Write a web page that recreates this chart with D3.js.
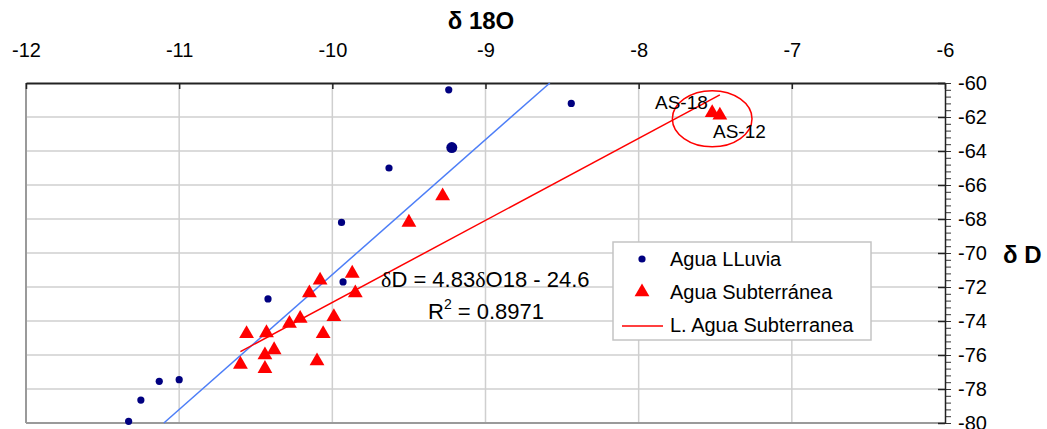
<!DOCTYPE html>
<head>
<meta charset="utf-8">
<script src="https://d3js.org/d3.v7.min.js"></script>
<style>
  body { margin: 0; background: #fff; }
  text { font-family: Arial, "Liberation Sans", sans-serif; fill: #000; }
</style>
</head>
<body>
<svg id="chart" width="1047" height="429"></svg>
<script>
// Agua LLuvia (rain)
const rainX = [-9.24, -8.44, -9.63, -9.94, -9.93, -10.42, -11.0, -11.13, -11.25, -11.33];
const rainY = [-60.4, -61.2, -65.0, -68.2, -71.7, -72.7, -77.45, -77.55, -78.65, -79.9];
const rainBig = [-9.22, -63.8];
// Agua Subterranea (groundwater)
const subX = [-10.08, -9.87, -10.15, -9.85, -9.99, -10.21, -10.28, -10.56, -10.43, -10.06,
              -10.38, -10.44, -10.60, -10.44, -10.10, -9.28, -9.50, -7.52, -7.47];
const subY = [-71.6, -71.2, -72.35, -72.35, -73.75, -73.85, -74.15, -74.75, -74.7, -74.75,
              -75.7, -76.0, -76.55, -76.8, -76.35, -66.65, -68.2, -61.75, -61.9];
// lines (end points)
const rainLineX = [-11.10, -8.58];
const rainLineY = [-80, -60];
const subLineX = [-10.60, -7.47];
const subLineY = [-75.8, -60.7];
const xTicks = [-12, -11, -10, -9, -8, -7, -6];
const yTicks = [-60, -62, -64, -66, -68, -70, -72, -74, -76, -78, -80];
const legendLabels = ["Agua LLuvia", "Agua Subterránea", "L. Agua Subterranea"];

const svg = d3.select("#chart");
const x = d3.scaleLinear().domain([-12, -6]).range([26, 945]);
const y = d3.scaleLinear().domain([-60, -80]).range([83, 423]);
const fmt = d => String(d);

// grid
svg.append("g").selectAll("line").data(xTicks.slice(1, -1)).join("line")
  .attr("x1", d => x(d)).attr("x2", d => x(d)).attr("y1", y(-60)).attr("y2", y(-80))
  .attr("stroke", "#cfcfcf").attr("stroke-width", 1.5);
svg.append("g").selectAll("line").data(yTicks.slice(1, -1)).join("line")
  .attr("x1", x(-12)).attr("x2", x(-6)).attr("y1", d => y(d)).attr("y2", d => y(d))
  .attr("stroke", "#cfcfcf").attr("stroke-width", 1.5);

// left / bottom borders
svg.append("line").attr("x1", x(-12)).attr("x2", x(-12)).attr("y1", y(-60)).attr("y2", y(-80))
  .attr("stroke", "#9a9a9a").attr("stroke-width", 2);
svg.append("line").attr("x1", x(-12)).attr("x2", x(-6)).attr("y1", y(-80)).attr("y2", y(-80))
  .attr("stroke", "#9a9a9a").attr("stroke-width", 2);

// top axis
const gx = svg.append("g").attr("transform", `translate(0,${y(-60)})`)
  .call(d3.axisTop(x).tickValues(xTicks).tickSizeInner(-6).tickSizeOuter(0).tickPadding(26).tickFormat(fmt));
gx.select(".domain").attr("stroke", "#222").attr("stroke-width", 2);
gx.selectAll(".tick line").attr("stroke", "#222").attr("stroke-width", 1.5);
gx.selectAll("text").attr("font-size", 20).attr("font-family", "Arial, 'Liberation Sans', sans-serif");

// right axis
const gyMinor = svg.append("g").attr("transform", `translate(${x(-6)},0)`)
  .call(d3.axisRight(y).tickValues(d3.range(0, 51).map(i => -80 + i * 0.4)).tickSize(6).tickFormat(""));
gyMinor.select(".domain").remove();
gyMinor.selectAll(".tick line").attr("stroke", "#333");
const gy = svg.append("g").attr("transform", `translate(${x(-6)},0)`)
  .call(d3.axisRight(y).tickValues(yTicks).tickSizeInner(-7).tickSizeOuter(0).tickPadding(13).tickFormat(fmt));
gy.select(".domain").attr("stroke", "#222").attr("stroke-width", 1.5);
gy.selectAll(".tick line").attr("stroke", "#222").attr("stroke-width", 1.5);
gy.selectAll("text").attr("font-size", 20).attr("font-family", "Arial, 'Liberation Sans', sans-serif");

// axis titles
svg.append("text").attr("x", 481).attr("y", 29).attr("text-anchor", "middle")
  .attr("font-size", 24).attr("font-weight", "bold").text("δ 18O");
svg.append("text").attr("x", 1003).attr("y", 263).attr("font-size", 24).attr("font-weight", "bold").text("δ D");

// lines
const line = d3.line().x(d => x(d[0])).y(d => y(d[1]));
svg.append("path").datum(d3.zip(rainLineX, rainLineY)).attr("d", line)
  .attr("stroke", "#4d7ef7").attr("stroke-width", 1.5).attr("fill", "none");
svg.append("path").datum(d3.zip(subLineX, subLineY)).attr("d", line)
  .attr("stroke", "#ff0000").attr("stroke-width", 1.5).attr("fill", "none");

// rain points
svg.append("g").selectAll("circle").data(d3.zip(rainX, rainY)).join("circle")
  .attr("cx", d => x(d[0])).attr("cy", d => y(d[1])).attr("r", 3.6).attr("fill", "#000080");
svg.append("circle").attr("cx", x(rainBig[0])).attr("cy", y(rainBig[1])).attr("r", 5.5).attr("fill", "#000080");

// groundwater points
const tri = d3.symbol().type(d3.symbolTriangle).size(95);
svg.append("g").selectAll("path").data(d3.zip(subX, subY)).join("path")
  .attr("d", tri).attr("transform", d => `translate(${x(d[0])},${y(d[1])})`).attr("fill", "#ff0000");

// ellipse around AS-18 / AS-12
svg.append("ellipse").attr("cx", x(-7.52)).attr("cy", y(-62.1))
  .attr("rx", x(-7.26) - x(-7.52)).attr("ry", y(-63.75) - y(-62.1))
  .attr("fill", "none").attr("stroke", "#ff0000").attr("stroke-width", 1.5);
svg.append("text").attr("x", 655).attr("y", 109).attr("font-size", 19).text("AS-18");
svg.append("text").attr("x", 713).attr("y", 138).attr("font-size", 19).text("AS-12");

// equation
const eq = svg.append("text").attr("x", 381).attr("y", 287).attr("font-size", 22);
eq.append("tspan").attr("font-family", "'Liberation Serif', serif").text("δ");
eq.append("tspan").text("D = 4.83");
eq.append("tspan").attr("font-family", "'Liberation Serif', serif").text("δ");
eq.append("tspan").text("O18 - 24.6");
const r2 = svg.append("text").attr("x", 428).attr("y", 319).attr("font-size", 22);
r2.append("tspan").text("R");
r2.append("tspan").attr("font-size", 14).attr("dy", -10).text("2");
r2.append("tspan").attr("dy", 10).text(" = 0.8971");

// legend
const lg = svg.append("g");
lg.append("rect").attr("x", 613).attr("y", 242).attr("width", 258).attr("height", 98)
  .attr("fill", "#fff").attr("stroke", "#c4c4c4").attr("stroke-width", 1.5);
lg.append("circle").attr("cx", 642).attr("cy", 259).attr("r", 3.6).attr("fill", "#000080");
lg.append("path").attr("d", tri).attr("transform", "translate(642,292)").attr("fill", "#ff0000");
lg.append("line").attr("x1", 622).attr("x2", 663).attr("y1", 326).attr("y2", 326)
  .attr("stroke", "#ff0000").attr("stroke-width", 1.5);
lg.selectAll("text").data(legendLabels).join("text")
  .attr("x", 670).attr("y", (d, i) => 266 + i * 33).attr("font-size", 20).text(d => d);
</script>
</body>
